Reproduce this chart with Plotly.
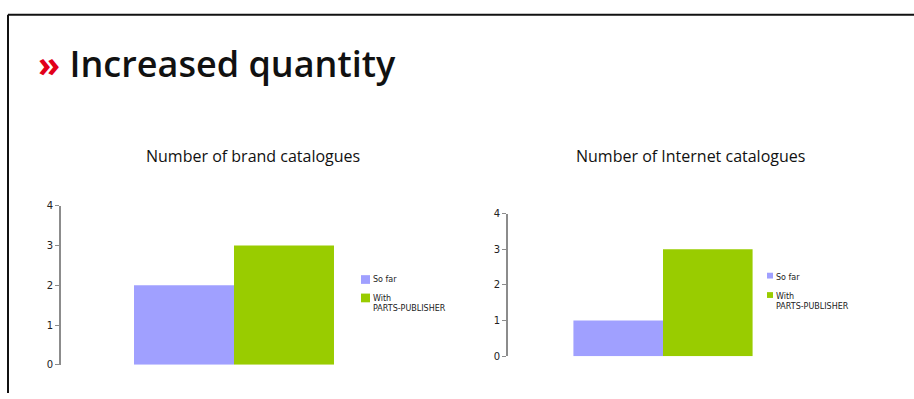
import plotly.graph_objects as go

W, H = 914, 399

categories = [""]
series_names = ["So far", "With<br>PARTS-PUBLISHER"]
brand_so_far = [2]
brand_with = [3]
internet_so_far = [1]
internet_with = [3]
y_ticks = [0, 1, 2, 3, 4]
chart_titles = ["Number of brand catalogues", "Number of Internet catalogues"]
page_title = "Increased quantity"

COL_A = "#A0A0FF"
COL_B = "#99CC00"
AXIS_COL = "#8c8c8c"
FONT = "Open Sans"

def px(x):
    return x / W

def py(y):
    return 1 - y / H

fig = go.Figure()

# chart 1
fig.add_trace(go.Bar(x=categories, y=brand_so_far, name=series_names[0], marker=dict(color=COL_A, line=dict(width=0)),
                     xaxis="x", yaxis="y", showlegend=False))
fig.add_trace(go.Bar(x=categories, y=brand_with, name=series_names[1], marker=dict(color=COL_B, line=dict(width=0)),
                     xaxis="x", yaxis="y", showlegend=False))
# chart 2
fig.add_trace(go.Bar(x=categories, y=internet_so_far, name=series_names[0], marker=dict(color=COL_A, line=dict(width=0)),
                     xaxis="x2", yaxis="y2", showlegend=False))
fig.add_trace(go.Bar(x=categories, y=internet_with, name=series_names[1], marker=dict(color=COL_B, line=dict(width=0)),
                     xaxis="x2", yaxis="y2", showlegend=False))

yax_common = dict(range=[0, 4], tickvals=y_ticks, showgrid=False, zeroline=False, showline=True,
                  linecolor=AXIS_COL, linewidth=2, ticks="outside", ticklen=4, tickcolor=AXIS_COL, tickwidth=1,
                  tickfont=dict(family="DejaVu Sans", size=10, color="#222"), fixedrange=True)
xax_common = dict(visible=False, range=[-0.5, 0.5], fixedrange=True)

fig.update_layout(
    width=W, height=H,
    margin=dict(l=0, r=0, t=0, b=0),
    paper_bgcolor="white", plot_bgcolor="white",
    barmode="group",
    bargap=0.422,
    bargroupgap=0,
    showlegend=False,
    xaxis=dict(domain=[px(61), px(407)], anchor="y", **xax_common),
    yaxis=dict(domain=[py(370), py(206)], anchor="x", **yax_common),
    xaxis2=dict(domain=[px(508), px(818)], anchor="y2", **xax_common),
    yaxis2=dict(domain=[py(361), py(214)], anchor="x2", **yax_common),
)

shapes = [
    dict(type="line", xref="paper", yref="paper", x0=px(8), x1=1, y0=py(9), y1=py(9), line=dict(color="#111", width=2)),
    dict(type="line", xref="paper", yref="paper", x0=px(8), x1=px(8), y0=py(9), y1=0, line=dict(color="#111", width=2)),
]
annotations = [
    dict(text="<span style='color:#e2001a'><b>»</b></span> " + page_title, x=px(36), y=py(59), xref="paper", yref="paper",
         xanchor="left", yanchor="middle", showarrow=False, font=dict(family=FONT, size=36, color="#111", weight=600)),
    dict(text=chart_titles[0], x=px(253), y=py(155), xref="paper", yref="paper", xanchor="center", yanchor="middle",
         showarrow=False, font=dict(family=FONT, size=16, color="#111")),
    dict(text=chart_titles[1], x=px(690), y=py(155), xref="paper", yref="paper", xanchor="center", yanchor="middle",
         showarrow=False, font=dict(family=FONT, size=16, color="#111")),
]

# manual legends
legend_specs = [
    dict(x=361, ys=[282, 301], size=9),
    dict(x=767, ys=[278, 298], size=6),
]
for spec in legend_specs:
    for name, col, yc in zip(series_names, [COL_A, COL_B], spec["ys"]):
        s = spec["size"]
        shapes.append(dict(type="rect", xref="paper", yref="paper", x0=px(spec["x"]), x1=px(spec["x"] + s),
                           y0=py(yc + s / 2), y1=py(yc - s / 2), fillcolor=col, line=dict(width=0)))
        annotations.append(dict(text=name, x=px(spec["x"] + s + 1), y=py(yc - s / 2 - 2), xref="paper", yref="paper",
                                xanchor="left", yanchor="top", align="left", showarrow=False,
                                font=dict(family="DejaVu Sans", size=8, color="#222")))

fig.update_layout(shapes=shapes, annotations=annotations)
fig.write_html("out.html")
